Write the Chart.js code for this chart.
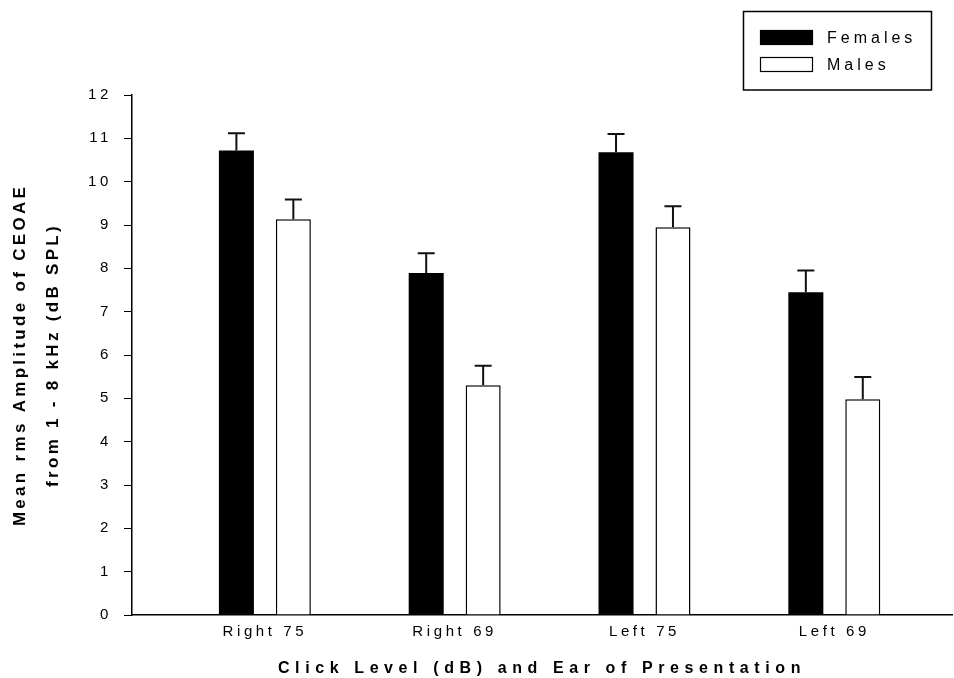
<!DOCTYPE html>
<html>
<head>
<meta charset="utf-8">
<script src="https://cdn.jsdelivr.net/npm/chart.js@4.4.1/dist/chart.umd.min.js"></script>
<style>
    html, body { margin: 0; padding: 0; background: #fff; }
    #wrap { width: 954px; height: 678px; }
</style>
</head>
<body>
<div id="wrap"><canvas id="ourChart"></canvas></div>
<script>
const categories = ["Right 75", "Right 69", "Left 75", "Left 69"];
const femalesMean = [10.72, 7.89, 10.68, 7.45];
const femalesErr = [0.40, 0.46, 0.42, 0.50];
const malesMean = [9.13, 5.30, 8.95, 4.98];
const malesErr = [0.46, 0.45, 0.48, 0.51];

let ourCanvas = document.getElementById("ourChart");
let ourCtx = ourCanvas.getContext("2d");

// the original figure uses widely spaced lettering; pick a spacing per font
const fontProp = Object.getOwnPropertyDescriptor(CanvasRenderingContext2D.prototype, "font");
function spacingFor(font) {
    const bold = font.includes("bold");
    if (bold && font.includes("17px")) return "3.3px";  // y title
    if (bold) return "5.6px";                            // x title
    if (font.includes("16px")) return "4px";             // legend
    return "3.6px";                                      // tick labels
}
Object.defineProperty(ourCtx, "font", {
    get() { return fontProp.get.call(this); },
    set(v) {
        fontProp.set.call(this, v);
        this.letterSpacing = spacingFor(v);
    }
});

Chart.defaults.font.family = '"Liberation Sans", Arial, sans-serif';
Chart.defaults.color = "#000";

const errorBars = {
    id: "errorBars",
    afterDatasetsDraw(chart) {
        const c = chart.ctx;
        const yScale = chart.scales.y;
        c.save();
        c.strokeStyle = "#111";
        c.lineWidth = 2;
        chart.data.datasets.forEach((ds, di) => {
            chart.getDatasetMeta(di).data.forEach((bar, i) => {
                const top = yScale.getPixelForValue(ds.data[i].y + ds.err[i]);
                c.beginPath();
                c.moveTo(bar.x, bar.y);
                c.lineTo(bar.x, top);
                c.moveTo(bar.x - 8.5, top);
                c.lineTo(bar.x + 8.5, top);
                c.stroke();
            });
        });
        c.restore();
    }
};

const boxLegend = {
    id: "boxLegend",
    afterDraw(chart) {
        const c = chart.ctx;
        c.save();
        c.strokeStyle = "#000";
        c.lineWidth = 1.5;
        c.strokeRect(743.5, 11.5, 188, 78.5);
        chart.data.datasets.forEach((ds, i) => {
            const y = 30 + i * 27;
            c.fillStyle = ds.backgroundColor;
            c.fillRect(760, y, 53, 15);
            c.lineWidth = 1.2;
            c.strokeRect(760.5, y + 0.5, 52, 14);
            c.font = '16px "Liberation Sans"';
            c.fillStyle = "#000";
            c.textBaseline = "middle";
            c.fillText(ds.label, 827, y + 9);
        });
        c.restore();
    }
};

new Chart(ourCanvas, {
    type: 'bar',
    data: {
        datasets: [
            {
                label: "Females",
                data: femalesMean.map((v, i) => ({ x: i + 1, y: v })),
                err: femalesErr,
                backgroundColor: '#000',
                borderColor: '#000',
                borderWidth: 0,
            },
            {
                label: "Males",
                data: malesMean.map((v, i) => ({ x: i + 1, y: v })),
                err: malesErr,
                backgroundColor: '#fff',
                borderColor: '#000',
                borderWidth: 1.5,
            }
        ]
    },
    options: {
        responsive: true,
        maintainAspectRatio: false,
        animation: false,
        categoryPercentage: 0.6,
        barPercentage: 0.615,
        layout: {
            padding: { top: 95, right: 2, left: 0, bottom: 0 }
        },
        plugins: {
            legend: { display: false },
            tooltip: { enabled: false },
        },
        scales: {
            x: {
                type: 'linear',
                min: 0.3,
                max: 4.62,
                offset: false,
                grid: { display: false, drawTicks: false, offset: false },
                border: { display: true, color: '#000', width: 1.5 },
                ticks: {
                    stepSize: 1,
                    includeBounds: false,
                    autoSkip: false,
                    maxRotation: 0,
                    padding: 8,
                    font: { size: 15 },
                    callback: v => categories[v - 1] ?? ''
                },
                title: {
                    display: true,
                    text: "Click Level (dB) and Ear of Presentation",
                    font: { size: 16, weight: 'bold' },
                    padding: { top: 0, bottom: 0 }
                },
                afterFit: s => { s.height = 63; }
            },
            y: {
                min: 0,
                max: 12,
                ticks: { stepSize: 1, padding: 12, font: { size: 15 } },
                grid: { drawOnChartArea: false, drawTicks: true, tickLength: 8, color: '#000', lineWidth: 1 },
                border: { display: true, color: '#000', width: 1.5 },
                title: {
                    display: true,
                    text: ["Mean rms Amplitude of CEOAE", "from 1 - 8 kHz (dB SPL)"],
                    font: { size: 17, weight: 'bold', lineHeight: '33px' },
                    padding: { top: 3.5, bottom: 0 }
                },
                afterFit: s => { s.width = 132; }
            }
        }
    },
    plugins: [errorBars, boxLegend]
});
</script>
</body>
</html>
